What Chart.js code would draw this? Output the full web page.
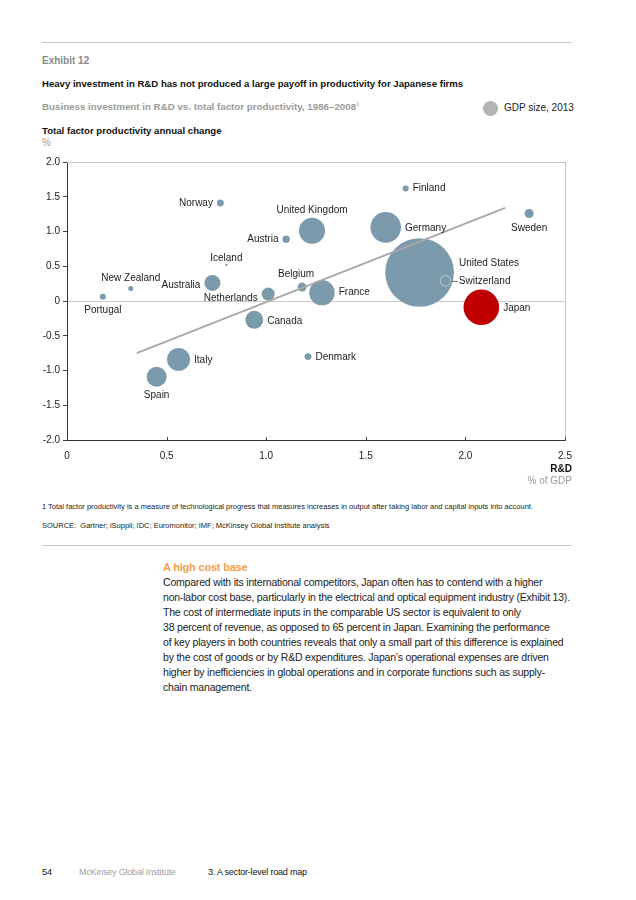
<!DOCTYPE html>
<html>
<head>
<meta charset="utf-8">
<script src="https://cdn.jsdelivr.net/npm/chart.js@4.4.1/dist/chart.umd.min.js"></script>
<style>
  body { margin: 0; background: #fff; font-family: "Liberation Sans", Arial, sans-serif; }
  .page { position: relative; width: 636px; height: 900px; }
  .abs { position: absolute; white-space: nowrap; }
  .rule { position: absolute; left: 42px; width: 530px; height: 0; border-top: 1.5px solid #c8c8c8; }
  .body { position: absolute; left: 163px; top: 575px; font-size: 10.5px; line-height: 15px; color: #222; letter-spacing: -0.2px; white-space: nowrap; }
</style>
</head>
<body>
<div class="page">
  <div class="rule" style="top:42px"></div>
  <div class="abs" style="left:42px;top:55px;font-size:10px;font-weight:bold;color:#8a8a8a">Exhibit 12</div>
  <div class="abs" style="left:42px;top:78px;font-size:9.6px;font-weight:bold;color:#111">Heavy investment in R&amp;D has not produced a large payoff in productivity for Japanese firms</div>
  <div class="abs" style="left:42px;top:101px;font-size:9.75px;font-weight:bold;color:#9a9a9a">Business investment in R&amp;D vs. total factor productivity, 1986–2008<sup style="font-size:6px;font-weight:normal">1</sup></div>
  <div class="abs" style="left:483px;top:101px;width:15px;height:15px;border-radius:50%;background:#b3b3b3"></div>
  <div class="abs" style="left:504px;top:102px;font-size:10px;color:#222">GDP size, 2013</div>
  <div class="abs" style="left:42px;top:125px;font-size:9.65px;font-weight:bold;color:#111">Total factor productivity annual change</div>
  <div class="abs" style="left:42px;top:137px;font-size:10px;color:#9a9a9a">%</div>

  <canvas id="bubbleChart" width="636" height="340" style="position:absolute;left:0;top:150px;width:636px;height:340px"></canvas>

  <div class="abs" style="right:64px;top:463px;font-size:10px;font-weight:bold;color:#111">R&amp;D</div>
  <div class="abs" style="right:64px;top:475px;font-size:10px;color:#9a9a9a">% of GDP</div>

  <div class="abs" style="left:42px;top:502px;font-size:7.5px;color:#222">1 Total factor productivity is a measure of technological progress that measures increases in output after taking labor and capital inputs into account.</div>
  <div class="abs" style="left:42px;top:521px;font-size:7.5px;color:#222">SOURCE:&nbsp; Gartner; iSuppli; IDC; Euromonitor; IMF; McKinsey Global Institute analysis</div>
  <div class="rule" style="top:545px"></div>

  <div class="abs" style="left:163px;top:561px;font-size:11px;font-weight:bold;color:#f5a04a;letter-spacing:-0.2px">A high cost base</div>
  <div class="body">
    Compared with its international competitors, Japan often has to contend with a higher<br>
    non-labor cost base, particularly in the electrical and optical equipment industry (Exhibit 13).<br>
    The cost of intermediate inputs in the comparable US sector is equivalent to only<br>
    38 percent of revenue, as opposed to 65 percent in Japan. Examining the performance<br>
    of key players in both countries reveals that only a small part of this difference is explained<br>
    by the cost of goods or by R&amp;D expenditures. Japan’s operational expenses are driven<br>
    higher by inefficiencies in global operations and in corporate functions such as supply-<br>
    chain management.
  </div>

  <div class="abs" style="left:42px;top:867px;font-size:9px;color:#111">54</div>
  <div class="abs" style="left:79px;top:867px;font-size:9px;color:#a0a0a0;letter-spacing:-0.2px">McKinsey Global Institute</div>
  <div class="abs" style="left:208px;top:867px;font-size:9px;color:#111;letter-spacing:-0.2px">3. A sector-level road map</div>
</div>

<script>
// 데이터
const countries = ["Norway", "United Kingdom", "Austria", "Iceland", "New Zealand", "Portugal", "Australia",
    "Netherlands", "Belgium", "France", "Finland", "Germany", "Sweden", "United States", "Switzerland",
    "Japan", "Canada", "Italy", "Spain", "Denmark"];
const rdShare = [0.77, 1.23, 1.10, 0.80, 0.32, 0.18, 0.73, 1.01, 1.18, 1.28, 1.70, 1.60, 2.32, 1.77, 1.90,
    2.08, 0.94, 0.56, 0.45, 1.21];
const tfpChange = [1.41, 1.01, 0.89, 0.52, 0.18, 0.06, 0.26, 0.10, 0.20, 0.12, 1.62, 1.06, 1.26, 0.41, 0.29,
    -0.09, -0.27, -0.84, -1.09, -0.80];
// GDP 2013, USD trillion
const gdpSize = [0.17, 2.40, 0.19, 0.02, 0.09, 0.13, 0.91, 0.60, 0.29, 2.29, 0.13, 3.32, 0.29, 16.7, 0.40,
    4.49, 1.15, 1.87, 1.42, 0.17];
const trendX = [0.35, 2.20];
const trendY = [-0.75, 1.34];
const xTicks = [0, 0.5, 1.0, 1.5, 2.0, 2.5];
const yTicks = [2.0, 1.5, 1.0, 0.5, 0, -0.5, -1.0, -1.5, -2.0];

// 라벨 위치 (side, dx, dy)
const labelPos = {
    "Norway": ["left"], "United Kingdom": ["above"], "Austria": ["left"], "Iceland": ["above", 0, 3],
    "New Zealand": ["above"], "Portugal": ["below", 0, 2], "Australia": ["left", 0, 2], "Netherlands": ["left", 0, 4],
    "Belgium": ["above", -6, 0], "France": ["right"], "Finland": ["right"], "Germany": ["right", 0, 1],
    "Sweden": ["below", 0, 2], "United States": ["right", 1, -9], "Switzerland": ["leader"], "Japan": ["right", 0, 1],
    "Canada": ["right", 0, 1], "Italy": ["right", 0, 1], "Spain": ["below"], "Denmark": ["right", 0, 1]
};

const radiusOf = g => 8.4 * Math.sqrt(g);
const fmt = v => v === 0 ? "0" : v.toFixed(1);

const labelPlugin = {
    id: "bubbleLabels",
    afterDatasetsDraw(chart) {
        const ctx = chart.ctx;
        const area = chart.chartArea;
        const xs = chart.scales.x;
        ctx.save();
        // 위쪽, 오른쪽 테두리
        ctx.strokeStyle = "#c4c4c4";
        ctx.lineWidth = 1;
        ctx.beginPath();
        ctx.moveTo(area.left, area.top + 0.5);
        ctx.lineTo(area.right + 0.5, area.top + 0.5);
        ctx.lineTo(area.right + 0.5, area.bottom);
        ctx.stroke();
        // x축 눈금 (안쪽)
        ctx.strokeStyle = "#444";
        xTicks.forEach(t => {
            const px = Math.round(xs.getPixelForValue(t)) + 0.5;
            ctx.beginPath();
            ctx.moveTo(px, area.bottom);
            ctx.lineTo(px, area.bottom - 3);
            ctx.stroke();
        });

        const meta = chart.getDatasetMeta(1);
        ctx.font = '10px "Liberation Sans", Arial, sans-serif';
        ctx.fillStyle = "#222";
        meta.data.forEach((el, i) => {
            const name = countries[i];
            const r = radiusOf(gdpSize[i]);
            const [side, dx = 0, dy = 0] = labelPos[name];
            let x = el.x, y = el.y;
            if (side === "left") {
                ctx.textAlign = "right"; ctx.textBaseline = "middle";
                x = el.x - r - 4;
            } else if (side === "right") {
                ctx.textAlign = "left"; ctx.textBaseline = "middle";
                x = el.x + r + 4;
            } else if (side === "above") {
                ctx.textAlign = "center"; ctx.textBaseline = "middle";
                y = el.y - r - 8;
            } else if (side === "below") {
                ctx.textAlign = "center"; ctx.textBaseline = "middle";
                y = el.y + r + 8;
            } else if (side === "leader") {
                ctx.strokeStyle = "#666";
                ctx.beginPath();
                ctx.moveTo(el.x + r, el.y + 0.5);
                ctx.lineTo(el.x + r + 7, el.y + 0.5);
                ctx.stroke();
                ctx.textAlign = "left"; ctx.textBaseline = "middle";
                x = el.x + r + 8;
            }
            ctx.fillText(name, x + dx, y + dy);
        });
        ctx.restore();
    }
};

const ctx1 = document.getElementById("bubbleChart").getContext("2d");
window.bubbleChart = new Chart(ctx1, {
    type: "bubble",
    data: {
        datasets: [{
            type: "line",
            data: trendX.map((x, i) => ({ x, y: trendY[i] })),
            borderColor: "#a8a8a8",
            borderWidth: 1.8,
            pointRadius: 0,
            fill: false,
            order: 0
        }, {
            type: "bubble",
            data: countries.map((c, i) => ({ x: rdShare[i], y: tfpChange[i], r: radiusOf(gdpSize[i]) })),
            backgroundColor: countries.map(c => c === "Japan" ? "#c00000" : "#7b9aab"),
            borderColor: countries.map(c => c === "Switzerland" ? "#cdd8de" : "rgba(0,0,0,0)"),
            borderWidth: countries.map(c => c === "Switzerland" ? 0.8 : 0),
            order: 1
        }]
    },
    options: {
        responsive: false,
        animation: false,
        events: [],
        layout: { autoPadding: false, padding: { left: 30, right: 71, top: 12, bottom: 0 } },
        plugins: { legend: { display: false }, tooltip: { enabled: false } },
        scales: {
            x: {
                type: "linear",
                min: 0,
                max: 2.5,
                afterBuildTicks: s => { s.ticks = xTicks.map(v => ({ value: v })); },
                afterFit: s => { s.height = 50; },
                grid: { display: false, drawTicks: false },
                border: { display: true, color: "#333", width: 1 },
                ticks: {
                    padding: 10,
                    maxRotation: 0,
                    color: "#222",
                    font: { family: "Liberation Sans", size: 10 },
                    callback: v => fmt(v)
                }
            },
            y: {
                type: "linear",
                min: -2,
                max: 2,
                afterBuildTicks: s => { s.ticks = yTicks.map(v => ({ value: v })); },
                afterFit: s => { s.width = 37; },
                grid: {
                    color: c => c.tick && c.tick.value === 0 ? "#c8c8c8" : "rgba(0,0,0,0)",
                    tickColor: "#444",
                    tickLength: 4
                },
                border: { display: true, color: "#333", width: 1 },
                ticks: {
                    padding: 3,
                    color: "#222",
                    font: { family: "Liberation Sans", size: 10 },
                    callback: v => fmt(v)
                }
            }
        }
    },
    plugins: [labelPlugin]
});
</script>
</body>
</html>
